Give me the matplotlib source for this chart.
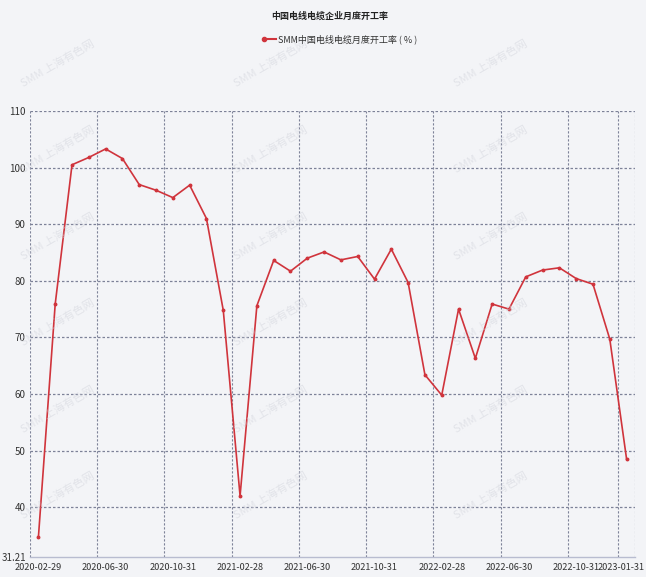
import matplotlib.pyplot as plt
import matplotlib.transforms as mtransforms

plt.rcParams['font.family'] = ['Liberation Sans Narrow', 'Noto Sans CJK SC', 'DejaVu Sans']

TITLE = "中国电线电缆企业月度开工率"
SERIES_NAME = "SMM中国电线电缆月度开工率 ( % )"

months = [
    "2020-02-29", "2020-03-31", "2020-04-30", "2020-05-31", "2020-06-30", "2020-07-31",
    "2020-08-31", "2020-09-30", "2020-10-31", "2020-11-30", "2020-12-31", "2021-01-31",
    "2021-02-28", "2021-03-31", "2021-04-30", "2021-05-31", "2021-06-30", "2021-07-31",
    "2021-08-31", "2021-09-30", "2021-10-31", "2021-11-30", "2021-12-31", "2022-01-31",
    "2022-02-28", "2022-03-31", "2022-04-30", "2022-05-31", "2022-06-30", "2022-07-31",
    "2022-08-31", "2022-09-30", "2022-10-31", "2022-11-30", "2022-12-31", "2023-01-31",
]
rate = [
    34.7, 75.9, 100.5, 101.8, 103.3, 101.6, 97.0, 96.0, 94.7, 96.9, 91.0, 74.8,
    42.0, 75.6, 83.6, 81.7, 84.0, 85.1, 83.7, 84.3, 80.3, 85.6, 79.7, 63.4,
    59.8, 75.0, 66.3, 75.9, 75.0, 80.7, 81.9, 82.3, 80.4, 79.4, 69.7, 48.5,
]
label_idx = [0, 4, 8, 12, 16, 20, 24, 28, 32, 35]
y_ticks = [31.21, 40, 50, 60, 70, 80, 90, 100, 110]

BG = "#f3f4f7"
GRID = "#7d8298"
LINE = "#d0343c"

fig = plt.figure(figsize=(6.46, 5.77), dpi=100, facecolor=BG)
ax = fig.add_axes([30 / 646, 20 / 577, 605 / 646, 446 / 577], facecolor=BG)

n = len(months)
xs = [i + 0.5 for i in range(n)]
ax.plot(xs, rate, color=LINE, lw=1.2, marker='o', ms=1.8, zorder=3)

ax.set_xlim(0, n)
ax.set_ylim(31.21, 110)

ax.set_xticks([i + 0.5 for i in label_idx])
ax.set_xticklabels([months[i] for i in label_idx], fontsize=6.6, color="#333333")
ax.set_yticks(y_ticks)
ax.set_yticklabels(["31.21" if v == 31.21 else str(v) for v in y_ticks], fontsize=7, color="#333333")
ax.tick_params(axis='both', which='both', length=0)
ax.tick_params(axis='x', pad=4)
ax.tick_params(axis='y', pad=3)

# nudge the last date label so it stays inside the picture
last = ax.get_xticklabels()[-1]
last.set_transform(last.get_transform() + mtransforms.ScaledTranslation(-6 / 100, 0, fig.dpi_scale_trans))

for v in y_ticks[1:]:
    ax.axhline(v, color=GRID, lw=0.9, ls=(0, (2, 1.6)), zorder=1)
for b in label_idx + [n]:
    ax.axvline(b, color=GRID, lw=0.8, ls=(0, (2, 1.6)), zorder=1)

for s in ['top', 'right', 'left']:
    ax.spines[s].set_visible(False)
ax.spines['bottom'].set_color("#b8bcd0")
ax.spines['bottom'].set_linewidth(1.0)

# watermark
for wx in [0.03, 0.36, 0.70]:
    for wy in [0.1, 0.25, 0.4, 0.55, 0.7, 0.85]:
        fig.text(wx, wy, "SMM 上海有色网", fontsize=8, color="#d0d2da", alpha=0.5,
                 rotation=30, family=['Noto Sans CJK SC', 'DejaVu Sans'], zorder=0)

fig.text(330 / 646, 1 - 16 / 577, TITLE, ha='center', va='center', fontsize=6.5,
         fontweight='bold', color="#222222", family=['Noto Sans CJK SC', 'DejaVu Sans'])
fig.lines.append(plt.Line2D([264 / 646, 276 / 646], [1 - 39 / 577, 1 - 39 / 577],
                            transform=fig.transFigure, color=LINE, lw=1.5,
                            marker='o', ms=3, markevery=[0], figure=fig))
fig.text(278 / 646, 1 - 39 / 577, SERIES_NAME, ha='left', va='center', fontsize=6.5,
         color="#333333", family=['Noto Sans CJK SC', 'DejaVu Sans'])

fig.savefig("out.png", dpi=100, facecolor=BG)
